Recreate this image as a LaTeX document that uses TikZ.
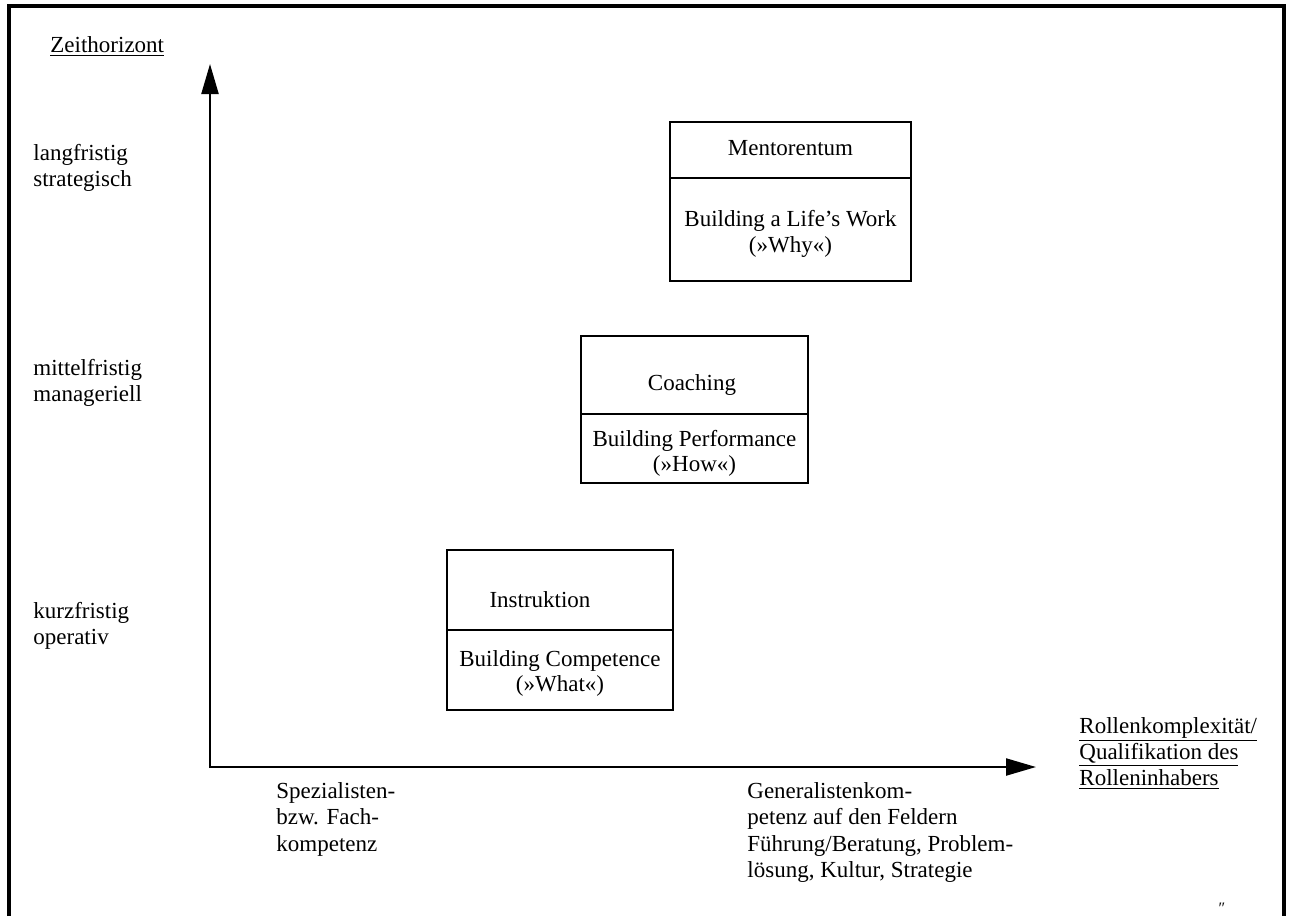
\documentclass[tikz,border=0pt]{standalone}
\usepackage{fontspec}
\setmainfont{Liberation Serif}
\usetikzlibrary{arrows.meta, positioning}

\tikzset{
  txt/.style={inner sep=0pt, font=\fontsize{11.5}{13}\selectfont},
  lbl/.style={txt, anchor=base west},
  mid/.style={txt, anchor=base},
  axis/.style={line width=1.1pt, -{Triangle[length=15pt, width=8.5pt]}},
  part/.style={draw, line width=0.8pt}
}

\begin{document}
\begin{tikzpicture}[x=0.5pt, y=-0.5pt]
  \useasboundingbox (0,0) rectangle (1289,916);

  % frame, open at the bottom
  \draw[line width=1.6pt] (9,916) -- (9,6) -- (1284,6) -- (1284,916);

  % axes
  \coordinate (origin) at (210,767);
  \coordinate (ytip) at (210,64);
  \coordinate (xtip) at (1036,767);
  \draw[axis] (origin) ++(0,1) -- (ytip);
  \draw[axis] (origin) ++(-1,0) -- (xtip);

  % axis titles
  \node[lbl] (ytitle) at (50,52) {\underline{Zeithorizont}};
  \node[lbl] (xt1) at (1079,733) {\underline{Rollenkomplexität/}};
  \node[lbl] (xt2) at (1079,759) {\underline{Qualifikation des}};
  \node[lbl] (xt3) at (1079,785) {\underline{Rolleninhabers}};

  % time horizon levels
  \foreach \y/\a/\b in {160/langfristig/strategisch,
                        375/mittelfristig/manageriell,
                        618/kurzfristig/operativ} {
    \node[lbl] at (33,\y) {\a};
    \node[lbl] at (33,\y+26) {\b};
  }

  % competence levels
  \node[lbl] (sp1) at (276,798) {Spezialisten-};
  \node[lbl] (sp2) at (276,824) {bzw. Fach-};
  \node[lbl] (sp3) at (276,851) {kompetenz};
  \node[lbl] (ge1) at (747,798) {Generalistenkom-};
  \node[lbl] (ge2) at (747,824.5) {petenz auf den Feldern};
  \node[lbl] (ge3) at (747,851) {Führung/Beratung, Problem-};
  \node[lbl] (ge4) at (747,877.5) {lösung, Kultur, Strategie};

  % Mentorentum
  \draw[part] (670,122) rectangle (911,281);
  \draw[part] (670,178) -- (911,178);
  \node[mid] (ment) at (790.5,155) {Mentorentum};
  \node[mid] (ment1) at (790.5,226) {Building a Life’s Work};
  \node[mid] (ment2) at (790.5,252) {(»Why«)};

  % Coaching
  \draw[part] (581,336) rectangle (808,483);
  \draw[part] (581,414) -- (808,414);
  \node[mid] (coach) at (692,390) {Coaching};
  \node[mid] (coach1) at (694.5,446) {Building Performance};
  \node[mid] (coach2) at (694.5,471) {(»How«)};

  % Instruktion
  \draw[part] (447,550) rectangle (673,710);
  \draw[part] (447,630) -- (673,630);
  \node[mid] (instr) at (540,607) {Instruktion};
  \node[mid] (instr1) at (560,666) {Building Competence};
  \node[mid] (instr2) at (560,691) {(»What«)};

  \node[txt, anchor=north, font=\fontsize{8}{9}\selectfont] (mark) at (1222,903) {″};
\end{tikzpicture}
\end{document}
